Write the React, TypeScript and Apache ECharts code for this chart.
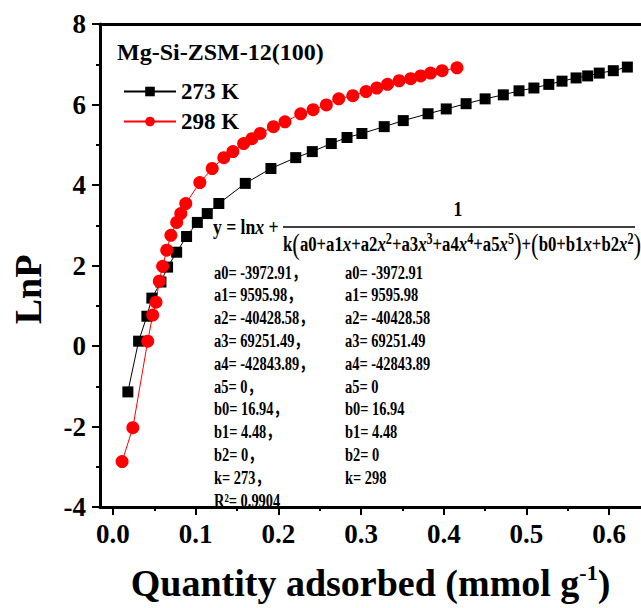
import React, { useEffect, useRef } from "react";
import * as echarts from "echarts";

const X_273 = [0.018, 0.031, 0.041, 0.047, 0.058, 0.066, 0.077, 0.089, 0.102, 0.114, 0.128, 0.160, 0.191, 0.221, 0.241, 0.264, 0.283, 0.301, 0.328, 0.351, 0.381, 0.403, 0.427, 0.450, 0.472, 0.491, 0.509, 0.527, 0.543, 0.560, 0.574, 0.588, 0.605, 0.622];
const Y_273 = [-1.14, 0.12, 0.74, 1.19, 1.59, 1.96, 2.33, 2.72, 3.07, 3.29, 3.54, 4.04, 4.41, 4.68, 4.83, 5.03, 5.18, 5.28, 5.45, 5.60, 5.77, 5.89, 6.02, 6.14, 6.24, 6.34, 6.41, 6.50, 6.58, 6.66, 6.71, 6.78, 6.84, 6.93];
const X_298 = [0.011, 0.024, 0.042, 0.048, 0.052, 0.056, 0.060, 0.065, 0.070, 0.077, 0.082, 0.088, 0.105, 0.120, 0.134, 0.145, 0.158, 0.168, 0.178, 0.194, 0.208, 0.227, 0.242, 0.258, 0.273, 0.290, 0.306, 0.319, 0.332, 0.346, 0.360, 0.372, 0.384, 0.398, 0.416];
const Y_298 = [-2.87, -2.03, 0.12, 0.77, 1.09, 1.61, 1.98, 2.38, 2.75, 3.07, 3.29, 3.54, 4.06, 4.41, 4.68, 4.83, 5.03, 5.15, 5.28, 5.45, 5.57, 5.77, 5.87, 5.99, 6.14, 6.22, 6.32, 6.41, 6.50, 6.59, 6.64, 6.71, 6.78, 6.84, 6.91];

const X_MAJOR = [0, 0.1, 0.2, 0.3, 0.4, 0.5, 0.6];
const X_MINOR = [0.05, 0.15, 0.25, 0.35, 0.45, 0.55];

const TITLE = "Mg-Si-ZSM-12(100)";
const SERIES_NAMES = ["273 K", "298 K"];
const PARAMS_273 = ["a0= -3972.91，", "a1= 9595.98，", "a2= -40428.58，", "a3= 69251.49，", "a4= -42843.89，", "a5= 0，", "b0= 16.94，", "b1= 4.48，", "b2= 0，", "k= 273，", "R²= 0.9904"];
const PARAMS_298 = ["a0= -3972.91", "a1= 9595.98", "a2= -40428.58", "a3= 69251.49", "a4= -42843.89", "a5= 0", "b0= 16.94", "b1= 4.48", "b2= 0", "k= 298"];

const FONT = "'Liberation Serif', 'Times New Roman', 'Noto Sans CJK SC', serif";

export default function App() {
  const ref = useRef<HTMLDivElement>(null);
  useEffect(() => {
    if (!ref.current) return;
    const chart = echarts.init(ref.current, null, { renderer: "svg" });
    const d273 = X_273.map((x, i) => [x, Y_273[i]]);
    const d298 = X_298.map((x, i) => [x, Y_298[i]]);
    const xMin = -0.0157;
    const xMax = 0.6385;
    const sup = { fontSize: 16, fontFamily: FONT, fontWeight: "bold", padding: [0, 0, 11, 0] };
    const it = { fontSize: 22, fontFamily: FONT, fontWeight: "bold", fontStyle: "italic" };
    const big = { fontSize: 30, fontFamily: FONT, fontWeight: "normal" };
    const denom =
      "k{p|(}a0+a1{i|x}+a2{i|x}{s|2}+a3{i|x}{s|3}+a4{i|x}{s|4}+a5{i|x}{s|5}{p|)}+{p|(}b0+b1{i|x}+b2{i|x}{s|2}{p|)}";
    chart.setOption({
      animation: false,
      backgroundColor: "#ffffff",
      title: {
        text: TITLE,
        left: 112,
        top: 35,
        textStyle: { fontFamily: FONT, fontWeight: "bold", fontSize: 24, color: "#000" },
      },
      legend: {
        orient: "vertical",
        left: 118,
        top: 75,
        itemWidth: 52,
        itemHeight: 12,
        itemGap: 7,
        textStyle: { fontFamily: FONT, fontWeight: "bold", fontSize: 23, color: "#000" },
        data: SERIES_NAMES,
      },
      grid: { left: 100, right: 0, top: 24, bottom: 101, containLabel: false },
      xAxis: [
        {
          type: "value",
          position: "bottom",
          min: xMin,
          max: xMax,
          axisLine: { show: true, onZero: false, lineStyle: { color: "#000", width: 3 } },
          axisTick: { show: true, inside: false, length: 8, lineStyle: { color: "#000", width: 2 }, customValues: X_MAJOR },
          axisLabel: {
            show: true,
            customValues: X_MAJOR,
            formatter: (v: number) => v.toFixed(1),
            fontFamily: FONT,
            fontWeight: "bold",
            fontSize: 27,
            color: "#000",
            margin: 13,
          },
          splitLine: { show: false },
          name: "Quantity adsorbed (mmol g{sup|-1})",
          nameLocation: "middle",
          nameGap: 54,
          nameTextStyle: {
            fontFamily: FONT,
            fontWeight: "bold",
            fontSize: 38,
            color: "#000",
            rich: { sup: { fontFamily: FONT, fontWeight: "bold", fontSize: 22, color: "#000", padding: [0, 0, 22, 0] } },
          },
        },
        {
          type: "value",
          position: "bottom",
          min: xMin,
          max: xMax,
          axisLine: { show: false, onZero: false },
          axisTick: { show: true, inside: false, length: 4, lineStyle: { color: "#000", width: 2 }, customValues: X_MINOR },
          axisLabel: { show: false },
          splitLine: { show: false },
        },
        {
          type: "value",
          position: "top",
          min: xMin,
          max: xMax,
          axisLine: { show: true, onZero: false, lineStyle: { color: "#000", width: 3 } },
          axisTick: { show: false },
          axisLabel: { show: false },
          splitLine: { show: false },
        },
      ],
      yAxis: {
        type: "value",
        min: -4,
        max: 8,
        interval: 2,
        axisLine: { show: true, onZero: false, lineStyle: { color: "#000", width: 3 } },
        axisTick: { show: true, inside: false, length: 8, lineStyle: { color: "#000", width: 2 } },
        minorTick: { show: true, splitNumber: 2, length: 4, lineStyle: { color: "#000", width: 2 } },
        axisLabel: { fontFamily: FONT, fontWeight: "bold", fontSize: 27, color: "#000", margin: 14 },
        splitLine: { show: false },
        name: "LnP",
        nameLocation: "middle",
        nameGap: 53,
        nameTextStyle: { fontFamily: FONT, fontWeight: "bold", fontSize: 38, color: "#000", padding: [0, 48, 0, 0] },
      },
      series: [
        {
          name: SERIES_NAMES[0],
          type: "line",
          xAxisIndex: 0,
          data: d273,
          symbol: "rect",
          symbolSize: 11,
          itemStyle: { color: "#000" },
          lineStyle: { color: "#000", width: 1 },
        },
        {
          name: SERIES_NAMES[1],
          type: "line",
          xAxisIndex: 0,
          data: d298,
          symbol: "circle",
          symbolSize: 13,
          itemStyle: { color: "#ff0000" },
          lineStyle: { color: "#ff0000", width: 1 },
        },
      ],
      graphic: [
        {
          type: "text",
          x: 213,
          y: 226,
          scaleX: 0.8,
          style: {
            text: "y = ln{i|x} +",
            fontFamily: FONT,
            fontWeight: "bold",
            fontSize: 22,
            fill: "#000",
            verticalAlign: "middle",
            textAlign: "left",
            rich: { i: it },
          },
        },
        {
          type: "text",
          x: 458,
          y: 208,
          scaleX: 0.8,
          style: { text: "1", fontFamily: FONT, fontWeight: "bold", fontSize: 22, fill: "#000", verticalAlign: "middle", textAlign: "center" },
        },
        {
          type: "line",
          shape: { x1: 283, y1: 227, x2: 635, y2: 227 },
          style: { stroke: "#000", lineWidth: 1.3 },
        },
        {
          type: "text",
          x: 283,
          y: 244,
          scaleX: 0.76,
          style: {
            text: denom,
            fontFamily: FONT,
            fontWeight: "bold",
            fontSize: 22,
            fill: "#000",
            verticalAlign: "middle",
            textAlign: "left",
            rich: { i: it, s: sup, p: big },
          },
        },
        {
          type: "text",
          x: 214,
          y: 261,
          scaleX: 0.76,
          style: {
            text: PARAMS_273.join("\n"),
            fontFamily: FONT,
            fontWeight: "bold",
            fontSize: 19,
            lineHeight: 22.8,
            fill: "#000",
            verticalAlign: "top",
            textAlign: "left",
          },
        },
        {
          type: "text",
          x: 345,
          y: 261,
          scaleX: 0.76,
          style: {
            text: PARAMS_298.join("\n"),
            fontFamily: FONT,
            fontWeight: "bold",
            fontSize: 19,
            lineHeight: 22.8,
            fill: "#000",
            verticalAlign: "top",
            textAlign: "left",
          },
        },
      ],
    });
    return () => chart.dispose();
  }, []);
  return (
    <div
      ref={ref}
      style={{ position: "absolute", left: 0, top: 0, width: 641, height: 608, background: "#fff" }}
    />
  );
}
